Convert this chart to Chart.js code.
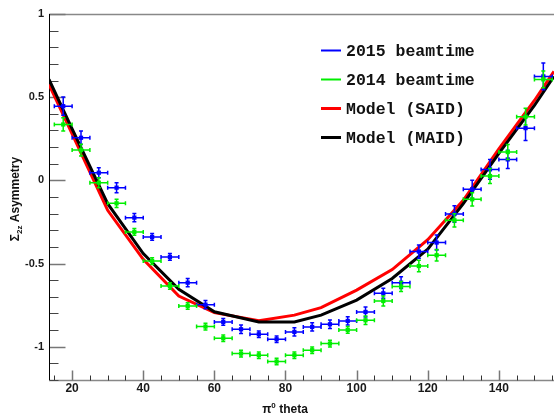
<!DOCTYPE html>
<html>
<head>
<meta charset="utf-8">
<script src="https://cdn.jsdelivr.net/npm/chart.js@4.4.0/dist/chart.umd.min.js"></script>
<style>
  body { margin: 0; background: #fff; }
  #wrap { width: 558px; height: 414px; }
</style>
</head>
<body>
<div id="wrap"><canvas id="asymChart"></canvas></div>
<script>
// pi0 theta bin centres (deg), each bin is 5 deg wide
const thetaBins = [17.5, 22.5, 27.5, 32.5, 37.5, 42.5, 47.5, 52.5, 57.5, 62.5, 67.5, 72.5, 77.5, 82.5,
                   87.5, 92.5, 97.5, 102.5, 107.5, 112.5, 117.5, 122.5, 127.5, 132.5, 137.5, 142.5, 147.5, 152.5];
const halfBin = 2.5;

const asym2015 = [0.446, 0.256, 0.046, -0.044, -0.224, -0.34, -0.46, -0.615, -0.747, -0.851, -0.895, -0.925, -0.955, -0.911,
                  -0.881, -0.865, -0.845, -0.791, -0.679, -0.615, -0.428, -0.374, -0.202, -0.054, 0.066, 0.126, 0.314, 0.625];
const err2015 = [0.055, 0.04, 0.03, 0.03, 0.025, 0.02, 0.02, 0.025, 0.025, 0.02, 0.025, 0.02, 0.02, 0.025,
                 0.025, 0.025, 0.025, 0.03, 0.03, 0.035, 0.04, 0.045, 0.05, 0.055, 0.06, 0.055, 0.075, 0.08];

const asym2014 = [0.336, 0.182, -0.014, -0.138, -0.31, -0.485, -0.635, -0.755, -0.879, -0.949, -1.041, -1.051, -1.089, -1.051,
                  -1.021, -0.981, -0.899, -0.841, -0.725, -0.638, -0.515, -0.45, -0.24, -0.114, 0.026, 0.17, 0.383, 0.607];
const err2014 = [0.04, 0.035, 0.03, 0.025, 0.02, 0.02, 0.02, 0.02, 0.02, 0.02, 0.02, 0.02, 0.02, 0.02,
                 0.02, 0.02, 0.02, 0.025, 0.03, 0.03, 0.035, 0.035, 0.04, 0.04, 0.045, 0.045, 0.05, 0.05];

// model predictions
const modelTheta = [13.5, 20, 30, 40, 50, 60, 72.5, 82.5, 90, 100, 110, 120, 130, 140, 150, 155.5];
const saidModel = [0.577, 0.28, -0.18, -0.475, -0.695, -0.795, -0.843, -0.81, -0.765, -0.66, -0.536, -0.357, -0.12, 0.19, 0.48, 0.655];
const maidModel = [0.607, 0.31, -0.14, -0.44, -0.655, -0.79, -0.851, -0.851, -0.81, -0.72, -0.59, -0.414, -0.14, 0.162, 0.45, 0.625];

const xTickValues = [20, 40, 60, 80, 100, 120, 140];
const yTickValues = [-1, -0.5, 0, 0.5, 1];

const toPoints = (xs, ys) => xs.map((v, i) => ({ x: v, y: ys[i] }));

// error bars drawn right after their own dataset
const errorBars = {
  id: 'errorBars',
  afterDatasetDraw(chart, args) {
    const ds = chart.data.datasets[args.index];
    if (!ds.errors) return;
    const { ctx, scales: { x, y } } = chart;
    ctx.save();
    ctx.strokeStyle = ds.borderColor;
    ctx.lineWidth = 1.5;
    ds.data.forEach((p, i) => {
      const px = x.getPixelForValue(p.x);
      const py = y.getPixelForValue(p.y);
      const x0 = x.getPixelForValue(p.x - halfBin);
      const x1 = x.getPixelForValue(p.x + halfBin);
      const y0 = y.getPixelForValue(p.y - ds.errors[i]);
      const y1 = y.getPixelForValue(p.y + ds.errors[i]);
      ctx.beginPath();
      ctx.moveTo(x0, py); ctx.lineTo(x1, py);
      ctx.moveTo(px, y0); ctx.lineTo(px, y1);
      ctx.moveTo(x0, py - 2); ctx.lineTo(x0, py + 2);
      ctx.moveTo(x1, py - 2); ctx.lineTo(x1, py + 2);
      ctx.moveTo(px - 2, y0); ctx.lineTo(px + 2, y0);
      ctx.moveTo(px - 2, y1); ctx.lineTo(px + 2, y1);
      ctx.stroke();
    });
    ctx.restore();
  }
};

// ROOT style frame: ticks pointing inwards
const frameTicks = {
  id: 'frameTicks',
  beforeDatasetsDraw(chart) {
    const { ctx, chartArea: a, scales: { x, y } } = chart;
    const seg = (x0, y0, x1, y1) => { ctx.beginPath(); ctx.moveTo(x0, y0); ctx.lineTo(x1, y1); ctx.stroke(); };
    const L = Math.round(a.left) + 0.5, B = Math.round(a.bottom) + 0.5, T = Math.round(a.top) + 0.5;
    ctx.save();
    ctx.lineWidth = 1.5;
    ctx.strokeStyle = '#888';
    seg(a.left, T, a.right, T);
    seg(a.left, B, a.right, B);
    for (let v = 15; v <= 155; v += 5) {
      const px = Math.round(x.getPixelForValue(v)) + 0.5;
      const major = xTickValues.includes(v);
      ctx.strokeStyle = major ? '#777' : '#333';
      ctx.lineWidth = major ? 1.5 : 1;
      seg(px, B, px, B - (major ? 10 : 5));
    }
    for (let k = -12; k <= 10; k++) {
      const py = Math.round(y.getPixelForValue(k / 10)) + 0.5;
      const major = k % 5 === 0;
      ctx.strokeStyle = major ? '#777' : '#444';
      ctx.lineWidth = major ? 1.5 : 1;
      seg(L, py, L + (major ? 16 : 9), py);
    }
    ctx.strokeStyle = '#000';
    ctx.lineWidth = 1;
    seg(L, a.top, L, a.bottom);
    ctx.restore();
  }
};

// draws text pieces one after another, with sub/superscripts
function drawPieces(ctx, pieces, cx, cy) {
  let total = 0;
  pieces.forEach(p => { ctx.font = 'bold ' + p.size + 'px "Liberation Sans", Arial'; total += ctx.measureText(p.text).width; });
  let cur = cx - total / 2;
  ctx.textAlign = 'left';
  ctx.textBaseline = 'alphabetic';
  pieces.forEach(p => {
    ctx.font = 'bold ' + p.size + 'px "Liberation Sans", Arial';
    ctx.fillText(p.text, cur, cy + (p.dy || 0));
    cur += ctx.measureText(p.text).width;
  });
}

const titlesAndLegend = {
  id: 'titlesAndLegend',
  afterDraw(chart) {
    const { ctx } = chart;
    ctx.save();
    ctx.fillStyle = '#111';
    drawPieces(ctx, [{ text: 'π', size: 12 }, { text: '0', size: 8, dy: -5 }, { text: ' theta', size: 12 }], 285, 413);

    ctx.save();
    ctx.translate(19, 199);
    ctx.rotate(-Math.PI / 2);
    drawPieces(ctx, [{ text: 'Σ', size: 12 }, { text: '2z', size: 8, dy: 3 }, { text: ' Asymmetry', size: 12 }], 0, 0);
    ctx.restore();

    // legend box, top right
    const rows = [50.5, 79.5, 108.5, 137.5];
    chart.data.datasets.forEach((ds, i) => {
      ctx.strokeStyle = ds.borderColor;
      ctx.lineWidth = ds.errors ? 2 : 3;
      ctx.beginPath();
      ctx.moveTo(321, rows[i]);
      ctx.lineTo(341, rows[i]);
      ctx.stroke();
      ctx.fillStyle = '#111';
      ctx.font = 'bold 16.5px "Liberation Mono", "Courier New", monospace';
      ctx.textAlign = 'left';
      ctx.textBaseline = 'middle';
      ctx.fillText(ds.label, 346, rows[i] + 1);
    });
    ctx.restore();
  }
};

new Chart(document.getElementById('asymChart'), {
  type: 'scatter',
  data: {
    datasets: [
      {
        label: '2015 beamtime',
        data: toPoints(thetaBins, asym2015),
        errors: err2015,
        borderColor: '#0000ff',
        backgroundColor: '#0000ff',
        pointStyle: 'rect',
        pointRadius: 3,
        pointBorderWidth: 0,
        order: 1
      },
      {
        label: '2014 beamtime',
        data: toPoints(thetaBins, asym2014),
        errors: err2014,
        borderColor: '#00ee00',
        backgroundColor: '#00ee00',
        pointStyle: 'rect',
        pointRadius: 3,
        pointBorderWidth: 0,
        order: 0
      },
      {
        label: 'Model (SAID)',
        data: toPoints(modelTheta, saidModel),
        showLine: true,
        borderColor: '#ff0000',
        borderWidth: 3,
        pointRadius: 0,
        tension: 0,
        order: 3
      },
      {
        label: 'Model (MAID)',
        data: toPoints(modelTheta, maidModel),
        showLine: true,
        borderColor: '#000000',
        borderWidth: 3,
        pointRadius: 0,
        tension: 0,
        order: 2
      }
    ]
  },
  options: {
    responsive: true,
    maintainAspectRatio: false,
    animation: false,
    layout: { padding: { top: 14, right: 2, left: 0, bottom: 0 } },
    plugins: { legend: { display: false }, tooltip: { enabled: false } },
    scales: {
      x: {
        type: 'linear',
        min: 13.5,
        max: 155.5,
        grid: { display: false, drawTicks: false },
        border: { display: false },
        afterBuildTicks: axis => { axis.ticks = xTickValues.map(v => ({ value: v })); },
        afterFit: axis => { axis.height = 34; },
        ticks: {
          autoSkip: false,
          maxRotation: 0,
          padding: 1,
          color: '#1a1a1a',
          font: { family: '"Liberation Sans", Arial', size: 12, weight: 'bold' },
          callback: v => String(v)
        }
      },
      y: {
        min: -1.2,
        max: 1,
        grid: { display: false, drawTicks: false },
        border: { display: false },
        afterBuildTicks: axis => { axis.ticks = yTickValues.map(v => ({ value: v })); },
        afterFit: axis => { axis.width = 49; },
        ticks: {
          padding: 5,
          color: '#1a1a1a',
          font: { family: '"Liberation Sans", Arial', size: 11, weight: 'bold' },
          callback: v => String(v)
        }
      }
    }
  },
  plugins: [frameTicks, errorBars, titlesAndLegend]
});
</script>
</body>
</html>
